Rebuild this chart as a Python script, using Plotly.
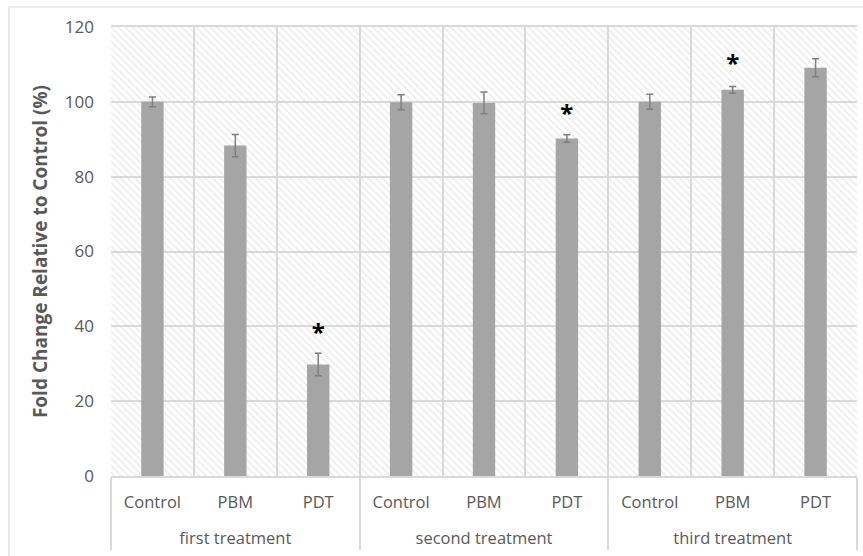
import plotly.graph_objects as go

groups = ["first treatment"] * 3 + ["second treatment"] * 3 + ["third treatment"] * 3
treatments = ["Control", "PBM", "PDT"] * 3
values = [100.0, 88.3, 29.8, 99.9, 99.7, 90.2, 100.0, 103.2, 109.1]
errors = [1.3, 3.0, 3.0, 2.0, 2.9, 1.0, 2.0, 0.9, 2.4]
star_groups = ["first treatment", "second treatment", "third treatment"]
star_treatments = ["PDT", "PDT", "PBM"]
star_values = [37.8, 96.3, 109.6]
y_ticks = [0, 20, 40, 60, 80, 100, 120]
y_max = 120

FONT = "Open Sans"
GRID = "#d9d9d9"
TXT = "#595959"


def group_label(g):
    # leading blank line pushes the group row further below the treatment row
    return "<br>" + g


x_main = [[group_label(g) for g in groups], treatments]
x_star = [[group_label(g) for g in star_groups], star_treatments]

fig = go.Figure()

# hatched plot-area background
fig.add_trace(go.Bar(
    x=x_main, y=[y_max] * len(values), width=1.0,
    marker=dict(color="rgba(0,0,0,0)", line=dict(width=0),
                pattern=dict(shape="\\", size=5, solidity=0.3,
                             fgcolor="#d6d6d6", bgcolor="rgba(0,0,0,0)")),
    hoverinfo="skip", showlegend=False,
))

fig.add_trace(go.Bar(
    x=x_main, y=values, width=0.27,
    marker=dict(color="#a5a5a5", line=dict(width=0)),
    error_y=dict(type="data", array=errors, color="#7f7f7f", thickness=1.5, width=3.5),
    showlegend=False,
))

fig.add_trace(go.Scatter(
    x=x_star, y=star_values, mode="text", text=["<b>*</b>"] * 3,
    textfont=dict(family=FONT, size=24, color="black"), textposition="middle center",
    showlegend=False, hoverinfo="skip",
))

fig.update_layout(
    width=863, height=556,
    margin=dict(l=111, r=6, t=27, b=80),
    paper_bgcolor="white", plot_bgcolor="white",
    barmode="overlay",
    font=dict(family=FONT, size=17, color=TXT),
    shapes=[dict(type="rect", xref="paper", yref="paper",
                 x0=(9 - 111) / 746, x1=1.02, y0=-0.3, y1=1 + (27 - 7) / 449,
                 line=dict(color=GRID, width=1.2), fillcolor="rgba(0,0,0,0)", layer="below")],
)

fig.update_xaxes(
    type="multicategory", tickson="boundaries", showgrid=True, gridcolor=GRID, gridwidth=1.5,
    showline=True, linecolor=GRID, linewidth=1.5, mirror=True,
    ticks="", showdividers=True, dividercolor=GRID, dividerwidth=1.5,
    ticklabelstandoff=10,
    tickfont=dict(family=FONT, size=16.5, color=TXT),
)
fig.update_yaxes(
    range=[0, y_max], tickvals=y_ticks, showgrid=True, gridcolor=GRID, gridwidth=1.5,
    zeroline=False, showline=False, ticks="", ticklabelstandoff=16,
    tickfont=dict(family=FONT, size=17, color=TXT),
    title=dict(text="<b>Fold Change Relative to Control (%)</b>", standoff=12,
               font=dict(family=FONT, size=19, color=TXT)),
)

fig.write_html("out.html")
